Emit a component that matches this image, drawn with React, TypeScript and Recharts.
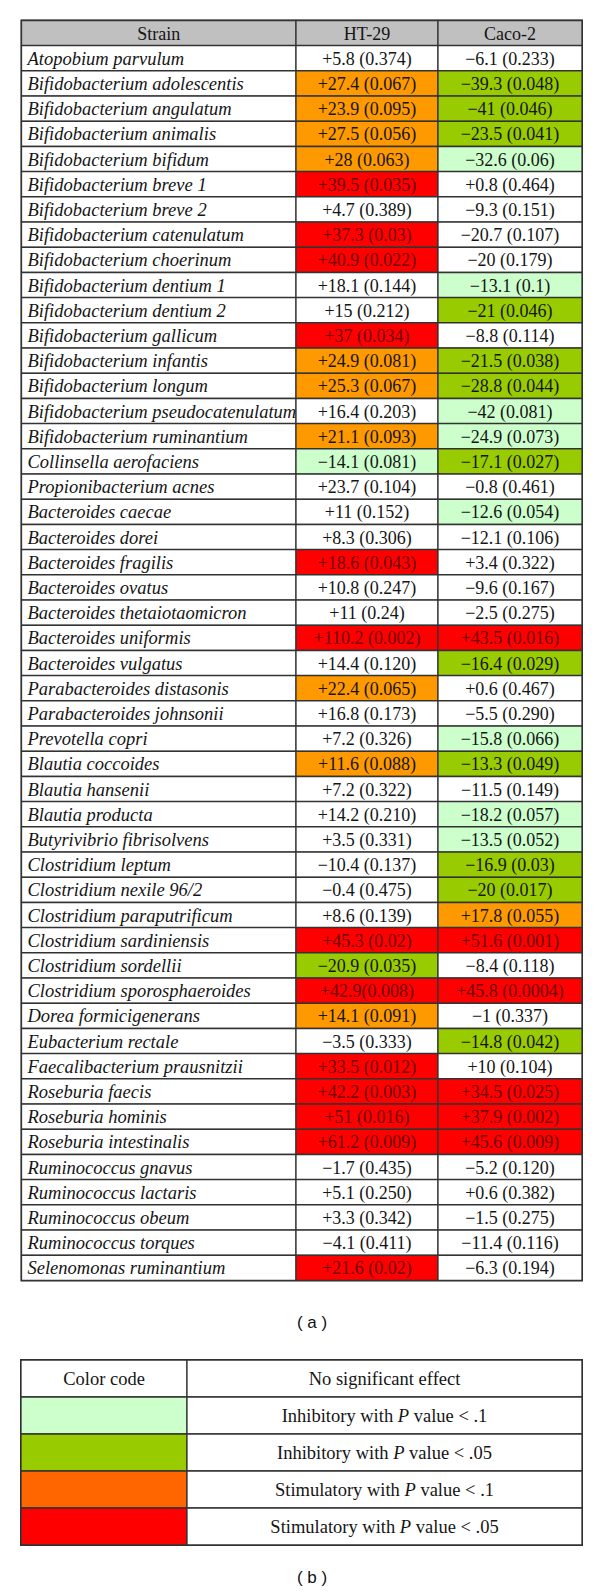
import React from "react";
import { Bar, BarChart, Cell, LabelList, ReferenceArea, XAxis, YAxis } from "recharts";

// --- table (a) ---
const headers = ["Strain", "HT-29", "Caco-2"];

const strains = [
  "Atopobium parvulum",
  "Bifidobacterium adolescentis",
  "Bifidobacterium angulatum",
  "Bifidobacterium animalis",
  "Bifidobacterium bifidum",
  "Bifidobacterium breve 1",
  "Bifidobacterium breve 2",
  "Bifidobacterium catenulatum",
  "Bifidobacterium choerinum",
  "Bifidobacterium dentium 1",
  "Bifidobacterium dentium 2",
  "Bifidobacterium gallicum",
  "Bifidobacterium infantis",
  "Bifidobacterium longum",
  "Bifidobacterium pseudocatenulatum",
  "Bifidobacterium ruminantium",
  "Collinsella aerofaciens",
  "Propionibacterium acnes",
  "Bacteroides caecae",
  "Bacteroides dorei",
  "Bacteroides fragilis",
  "Bacteroides ovatus",
  "Bacteroides thetaiotaomicron",
  "Bacteroides uniformis",
  "Bacteroides vulgatus",
  "Parabacteroides distasonis",
  "Parabacteroides johnsonii",
  "Prevotella copri",
  "Blautia coccoides",
  "Blautia hansenii",
  "Blautia producta",
  "Butyrivibrio fibrisolvens",
  "Clostridium leptum",
  "Clostridium nexile 96/2",
  "Clostridium paraputrificum",
  "Clostridium sardiniensis",
  "Clostridium sordellii",
  "Clostridium sporosphaeroides",
  "Dorea formicigenerans",
  "Eubacterium rectale",
  "Faecalibacterium prausnitzii",
  "Roseburia faecis",
  "Roseburia hominis",
  "Roseburia intestinalis",
  "Ruminococcus gnavus",
  "Ruminococcus lactaris",
  "Ruminococcus obeum",
  "Ruminococcus torques",
  "Selenomonas ruminantium",
];

const ht29 = [
  "+5.8 (0.374)", "+27.4 (0.067)", "+23.9 (0.095)", "+27.5 (0.056)", "+28 (0.063)",
  "+39.5 (0.035)", "+4.7 (0.389)", "+37.3 (0.03)", "+40.9 (0.022)", "+18.1 (0.144)",
  "+15 (0.212)", "+37 (0.034)", "+24.9 (0.081)", "+25.3 (0.067)", "+16.4 (0.203)",
  "+21.1 (0.093)", "−14.1 (0.081)", "+23.7 (0.104)", "+11 (0.152)", "+8.3 (0.306)",
  "+18.6 (0.043)", "+10.8 (0.247)", "+11 (0.24)", "+110.2 (0.002)", "+14.4 (0.120)",
  "+22.4 (0.065)", "+16.8 (0.173)", "+7.2 (0.326)", "+11.6 (0.088)", "+7.2 (0.322)",
  "+14.2 (0.210)", "+3.5 (0.331)", "−10.4 (0.137)", "−0.4 (0.475)", "+8.6 (0.139)",
  "+45.3 (0.02)", "−20.9 (0.035)", "+42.9(0.008)", "+14.1 (0.091)", "−3.5 (0.333)",
  "+33.5 (0.012)", "+42.2 (0.003)", "+51 (0.016)", "+61.2 (0.009)", "−1.7 (0.435)",
  "+5.1 (0.250)", "+3.3 (0.342)", "−4.1 (0.411)", "+21.6 (0.02)",
];

const ht29Codes = [
  "n", "s1", "s1", "s1", "s1", "s5", "n", "s5", "s5", "n",
  "n", "s5", "s1", "s1", "n", "s1", "i1", "n", "n", "n",
  "s5", "n", "n", "s5", "n", "s1", "n", "n", "s1", "n",
  "n", "n", "n", "n", "n", "s5", "i5", "s5", "s1", "n",
  "s5", "s5", "s5", "s5", "n", "n", "n", "n", "s5",
];

const caco2 = [
  "−6.1 (0.233)", "−39.3 (0.048)", "−41 (0.046)", "−23.5 (0.041)", "−32.6 (0.06)",
  "+0.8 (0.464)", "−9.3 (0.151)", "−20.7 (0.107)", "−20 (0.179)", "−13.1 (0.1)",
  "−21 (0.046)", "−8.8 (0.114)", "−21.5 (0.038)", "−28.8 (0.044)", "−42 (0.081)",
  "−24.9 (0.073)", "−17.1 (0.027)", "−0.8 (0.461)", "−12.6 (0.054)", "−12.1 (0.106)",
  "+3.4 (0.322)", "−9.6 (0.167)", "−2.5 (0.275)", "+43.5 (0.016)", "−16.4 (0.029)",
  "+0.6 (0.467)", "−5.5 (0.290)", "−15.8 (0.066)", "−13.3 (0.049)", "−11.5 (0.149)",
  "−18.2 (0.057)", "−13.5 (0.052)", "−16.9 (0.03)", "−20 (0.017)", "+17.8 (0.055)",
  "+51.6 (0.001)", "−8.4 (0.118)", "+45.8 (0.0004)", "−1 (0.337)", "−14.8 (0.042)",
  "+10 (0.104)", "+34.5 (0.025)", "+37.9 (0.002)", "+45.6 (0.009)", "−5.2 (0.120)",
  "+0.6 (0.382)", "−1.5 (0.275)", "−11.4 (0.116)", "−6.3 (0.194)",
];

const caco2Codes = [
  "n", "i5", "i5", "i5", "i1", "n", "n", "n", "n", "i1",
  "i5", "n", "i5", "i5", "i1", "i1", "i5", "n", "i1", "n",
  "n", "n", "n", "s5", "i5", "n", "n", "i1", "i5", "n",
  "i1", "i1", "i5", "i5", "s1", "s5", "n", "s5", "n", "i5",
  "n", "s5", "s5", "s5", "n", "n", "n", "n", "n",
];

// --- table (b) ---
const legendCodes = ["n", "i1", "i5", "s1b", "s5"];
const legendLabels = [
  "No significant effect",
  "Inhibitory with P value < .1",
  "Inhibitory with P value < .05",
  "Stimulatory with P value < .1",
  "Stimulatory with P value < .05",
];

const FILL: Record<string, string> = {
  h: "#c0c0c0",
  n: "#ffffff",
  i1: "#ccffcc",
  i5: "#99cc00",
  s1: "#ff9900",
  s1b: "#ff6600",
  s5: "#ff0000",
};

const SERIF = "'Liberation Serif', 'Times New Roman', serif";
const LINE = "#333333";
const textFill = (code: string) => (code === "s5" ? "#6e0000" : "#151515");

// column spans, in plot pixels
const COL_A = [274.5, 142, 144];
const COL_B = [166, 395];

const rows = [
  { strain: headers[0], ht: headers[1], caco: headers[2], sCode: "h", hCode: "h", cCode: "h" },
  ...strains.map((s, i) => ({
    strain: s,
    ht: ht29[i],
    caco: caco2[i],
    sCode: "n",
    hCode: ht29Codes[i],
    cCode: caco2Codes[i],
  })),
].map((r) => ({ ...r, w0: COL_A[0], w1: COL_A[1], w2: COL_A[2] }));

const legendRows = legendLabels.map((label, i) => ({
  key: `r${i}`,
  code: legendCodes[i],
  left: i === 0 ? "Color code" : "",
  label,
  w0: COL_B[0],
  w1: COL_B[1],
}));

function cellText(getCode: (i: number) => string, mode: "left" | "center") {
  return (props: any) => {
    const { x, y, width, height, value, index } = props;
    const header = index === 0;
    const left = mode === "left" && !header;
    return (
      <text
        x={left ? x + 6 : x + width / 2}
        y={y + height / 2 + 6.5}
        textAnchor={left ? "start" : "middle"}
        fontFamily={SERIF}
        fontSize={left ? 18.5 : 18}
        fontStyle={left ? "italic" : "normal"}
        fill={textFill(getCode(index))}
      >
        {value}
      </text>
    );
  };
}

function legendText(props: any) {
  const { x, y, width, height, value } = props;
  const parts = String(value).split(" P ");
  return (
    <text
      x={x + width / 2}
      y={y + height / 2 + 6.5}
      textAnchor="middle"
      fontFamily={SERIF}
      fontSize={18.5}
      fill="#151515"
    >
      {parts.length > 1 ? (
        <>
          <tspan>{parts[0] + " "}</tspan>
          <tspan fontStyle="italic">P</tspan>
          <tspan>{" " + parts[1]}</tspan>
        </>
      ) : (
        value
      )}
    </text>
  );
}

const caption: React.CSSProperties = {
  position: "absolute",
  left: 262,
  width: 100,
  textAlign: "center",
  fontFamily: "'Liberation Sans', Arial, sans-serif",
  fontSize: 17,
  color: "#111",
  whiteSpace: "pre",
};

export default function App() {
  const totalA = COL_A[0] + COL_A[1] + COL_A[2];
  const totalB = COL_B[0] + COL_B[1];
  return (
    <div style={{ position: "relative", width: 600, height: 1596, margin: -8, background: "#fff" }}>
      <div style={{ position: "absolute", left: 0, top: 0 }}>
        <BarChart
          width={600}
          height={1300}
          data={rows}
          layout="vertical"
          barCategoryGap={0}
          margin={{ top: 20.5, left: 21.5, right: 18, bottom: 19.5 }}
        >
          <XAxis type="number" domain={[0, totalA]} hide />
          <YAxis type="category" dataKey="strain" hide />
          <Bar dataKey="w0" stackId="row" stroke={LINE} strokeWidth={1.3} isAnimationActive={false}>
            {rows.map((r, i) => (
              <Cell key={i} fill={FILL[r.sCode]} />
            ))}
            <LabelList dataKey="strain" content={cellText((i) => rows[i].sCode, "left")} />
          </Bar>
          <Bar dataKey="w1" stackId="row" stroke={LINE} strokeWidth={1.3} isAnimationActive={false}>
            {rows.map((r, i) => (
              <Cell key={i} fill={FILL[r.hCode]} />
            ))}
            <LabelList dataKey="ht" content={cellText((i) => rows[i].hCode, "center")} />
          </Bar>
          <Bar dataKey="w2" stackId="row" stroke={LINE} strokeWidth={1.3} isAnimationActive={false}>
            {rows.map((r, i) => (
              <Cell key={i} fill={FILL[r.cCode]} />
            ))}
            <LabelList dataKey="caco" content={cellText((i) => rows[i].cCode, "center")} />
          </Bar>
          <ReferenceArea x1={0} x2={totalA} fill="none" stroke="#2a2a2a" strokeWidth={2} ifOverflow="visible" />
        </BarChart>
      </div>

      <div style={{ ...caption, top: 1313 }}>{"( a )"}</div>

      <div style={{ position: "absolute", left: 0, top: 1340 }}>
        <BarChart
          width={600}
          height={225}
          data={legendRows}
          layout="vertical"
          barCategoryGap={0}
          margin={{ top: 20, left: 21, right: 18, bottom: 20 }}
        >
          <XAxis type="number" domain={[0, totalB]} hide />
          <YAxis type="category" dataKey="key" hide />
          <Bar dataKey="w0" stackId="row" stroke={LINE} strokeWidth={1.3} isAnimationActive={false}>
            {legendRows.map((r, i) => (
              <Cell key={i} fill={FILL[r.code]} />
            ))}
            <LabelList dataKey="left" content={legendText} />
          </Bar>
          <Bar dataKey="w1" stackId="row" fill="#ffffff" stroke={LINE} strokeWidth={1.3} isAnimationActive={false}>
            <LabelList dataKey="label" content={legendText} />
          </Bar>
          <ReferenceArea x1={0} x2={totalB} fill="none" stroke="#2a2a2a" strokeWidth={2} ifOverflow="visible" />
        </BarChart>
      </div>

      <div style={{ ...caption, top: 1568 }}>{"( b )"}</div>
    </div>
  );
}
